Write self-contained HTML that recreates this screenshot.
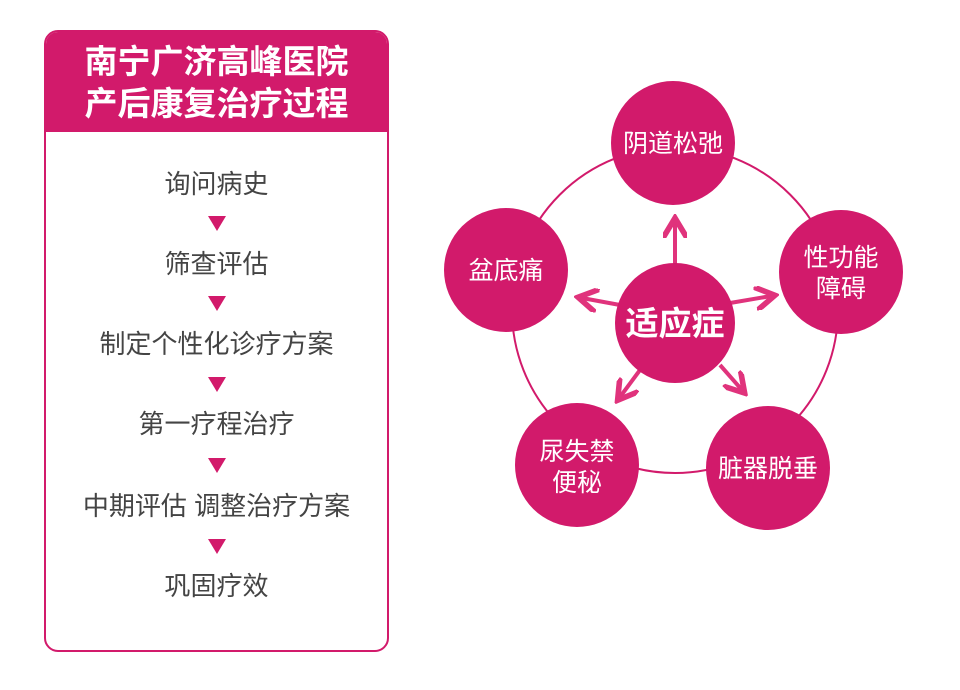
<!DOCTYPE html>
<html><head><meta charset="utf-8"><style>
body{margin:0;width:960px;height:690px;background:#fff;position:relative;overflow:hidden;font-family:"Liberation Sans","Noto Sans CJK SC",sans-serif}
.box{position:absolute;left:44px;top:30px;width:341px;height:618px;border:2px solid #d21a6b;border-radius:14px;overflow:hidden}
.hd{background:#d21a6b;height:100px;color:#fff;font-weight:bold;font-size:33px;text-align:center;line-height:42px;padding-top:9px;box-sizing:border-box}
.it{position:absolute;left:0;width:341px;text-align:center;font-size:26px;color:#444}
.tr{position:absolute;left:162px;width:0;height:0;border-left:9px solid transparent;border-right:9px solid transparent;border-top:15px solid #d21a6b}
</style></head><body>
<div class="box">
<div class="hd">南宁广济高峰医院<br>产后康复治疗过程</div>
<div class="it" style="top:132px">询问病史</div>
<div class="tr" style="top:184px"></div>
<div class="it" style="top:212px">筛查评估</div>
<div class="tr" style="top:264px"></div>
<div class="it" style="top:292px">制定个性化诊疗方案</div>
<div class="tr" style="top:345px"></div>
<div class="it" style="top:372px">第一疗程治疗</div>
<div class="tr" style="top:426px"></div>
<div class="it" style="top:454px">中期评估 调整治疗方案</div>
<div class="tr" style="top:507px"></div>
<div class="it" style="top:534px">巩固疗效</div>
</div>
<svg width="960" height="690" style="position:absolute;left:0;top:0">
<defs><marker id="a" markerWidth="6" markerHeight="6" refX="4" refY="3" orient="auto" markerUnits="strokeWidth"><path d="M0,0 L5,3 L0,6" fill="none" stroke="#e0337c" stroke-width="1.4"/></marker></defs>
<circle cx="675" cy="310" r="163" fill="none" stroke="#d21a6b" stroke-width="2"/>
<g stroke="#e0337c" stroke-width="4" marker-end="url(#a)">
<line x1="675" y1="265" x2="675" y2="222"/>
<line x1="620" y1="305" x2="582" y2="298"/>
<line x1="730" y1="303" x2="771" y2="296"/>
<line x1="640" y1="370" x2="620" y2="397"/>
<line x1="720" y1="365" x2="742" y2="390"/>
</g>
<g fill="#d21a6b">
<circle cx="673" cy="143" r="62"/><circle cx="506" cy="270" r="62"/><circle cx="841" cy="272" r="62"/>
<circle cx="577" cy="465" r="62"/><circle cx="768" cy="468" r="62"/><circle cx="675" cy="323" r="60"/>
</g>
<g fill="#fff" font-size="25" text-anchor="middle" font-family="Liberation Sans,Noto Sans CJK SC,sans-serif">
<text x="673" y="152">阴道松弛</text>
<text x="506" y="279">盆底痛</text>
<text x="841" y="266">性功能</text><text x="841" y="297">障碍</text>
<text x="577" y="460">尿失禁</text><text x="577" y="491">便秘</text>
<text x="768" y="477">脏器脱垂</text>
<text x="675" y="335" font-size="33" font-weight="bold">适应症</text>
</g>
</svg>
</body></html>
